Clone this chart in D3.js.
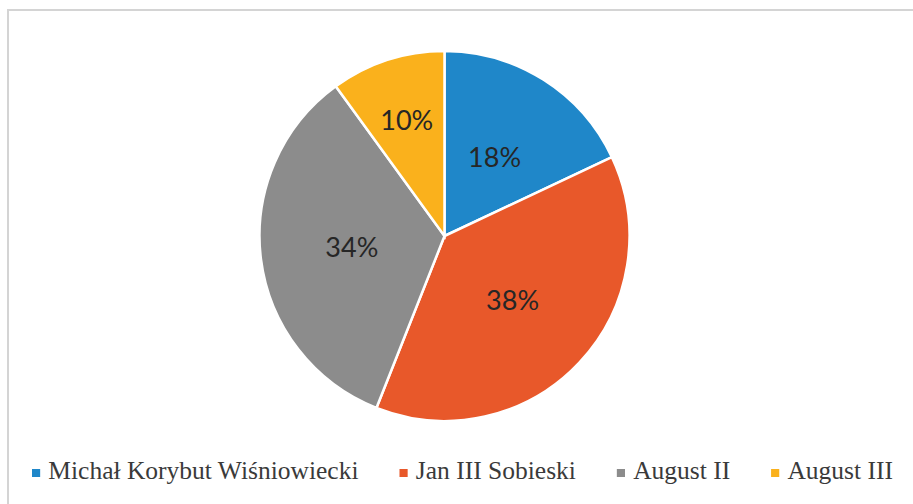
<!DOCTYPE html>
<html><head><meta charset="utf-8">
<script src="https://cdn.jsdelivr.net/npm/d3@7"></script>
<style>html,body{margin:0;padding:0;background:#fff;}</style>
</head><body>
<svg id="chart" width="913" height="504"></svg>
<script>
const categories = ["Michał Korybut Wiśniowiecki", "Jan III Sobieski", "August II", "August III"];
const values = [18, 38, 34, 10];
const labels = ["18%", "38%", "34%", "10%"];
const colors = ["#1f87c9", "#e8582a", "#8c8c8c", "#fab11c"];

const svg = d3.select("#chart");
svg.append("rect").attr("x", 8).attr("y", 10).attr("width", 920).attr("height", 510)
  .attr("fill", "#fff").attr("stroke", "#d4d4d4").attr("stroke-width", 2);

const cx = 444.5, cy = 236, r = 185;
const data = categories.map((c, i) => ({name: c, value: values[i], label: labels[i], color: colors[i]}));
const pie = d3.pie().sort(null).value(d => d.value);
const arc = d3.arc().innerRadius(0).outerRadius(r);
const g = svg.append("g").attr("transform", `translate(${cx},${cy})`);
const arcs = pie(data);
g.selectAll("path").data(arcs).join("path")
  .attr("d", arc).attr("fill", d => d.data.color)
  .attr("stroke", "#fff").attr("stroke-width", 2.5).attr("stroke-linejoin", "miter");

g.selectAll("text").data(arcs).join("text")
  .style("font-family", '"Lato", "Open Sans", sans-serif')
  .attr("transform", d => {
    const a = (d.startAngle + d.endAngle) / 2;
    const lr = r * (d.data.value < 15 ? 0.66 : 0.505);
    return `translate(${Math.sin(a) * lr},${-Math.cos(a) * lr})`;
  })
  .attr("text-anchor", "middle").attr("dy", "0.36em")
  .attr("font-size", 27)
  .attr("fill", "#262626").text(d => d.data.label);

// legend
const legend = svg.append("g");
const fs = 25, gap = 40, markerW = 8, markerGap = 8;
const items = legend.selectAll("g").data(data).join("g");
items.append("rect").attr("width", markerW).attr("height", markerW).attr("y", -10)
  .attr("fill", d => d.color);
items.append("text").attr("x", markerW + markerGap).attr("y", 0)
  .style("font-family", '"Liberation Serif", "Times New Roman", serif')
  .attr("font-size", fs)
  .attr("fill", "#3a3a3a").text(d => d.name);
let x = 0;
items.each(function() {
  const w = this.getBBox().width;
  d3.select(this).attr("transform", `translate(${x},479)`);
  x += w + gap;
});
const total = x - gap;
const left = 32, right = 893;
const sx = (right - left) / total;
legend.attr("transform", `translate(${left},0) scale(${sx},1)`);
</script>
</body></html>
